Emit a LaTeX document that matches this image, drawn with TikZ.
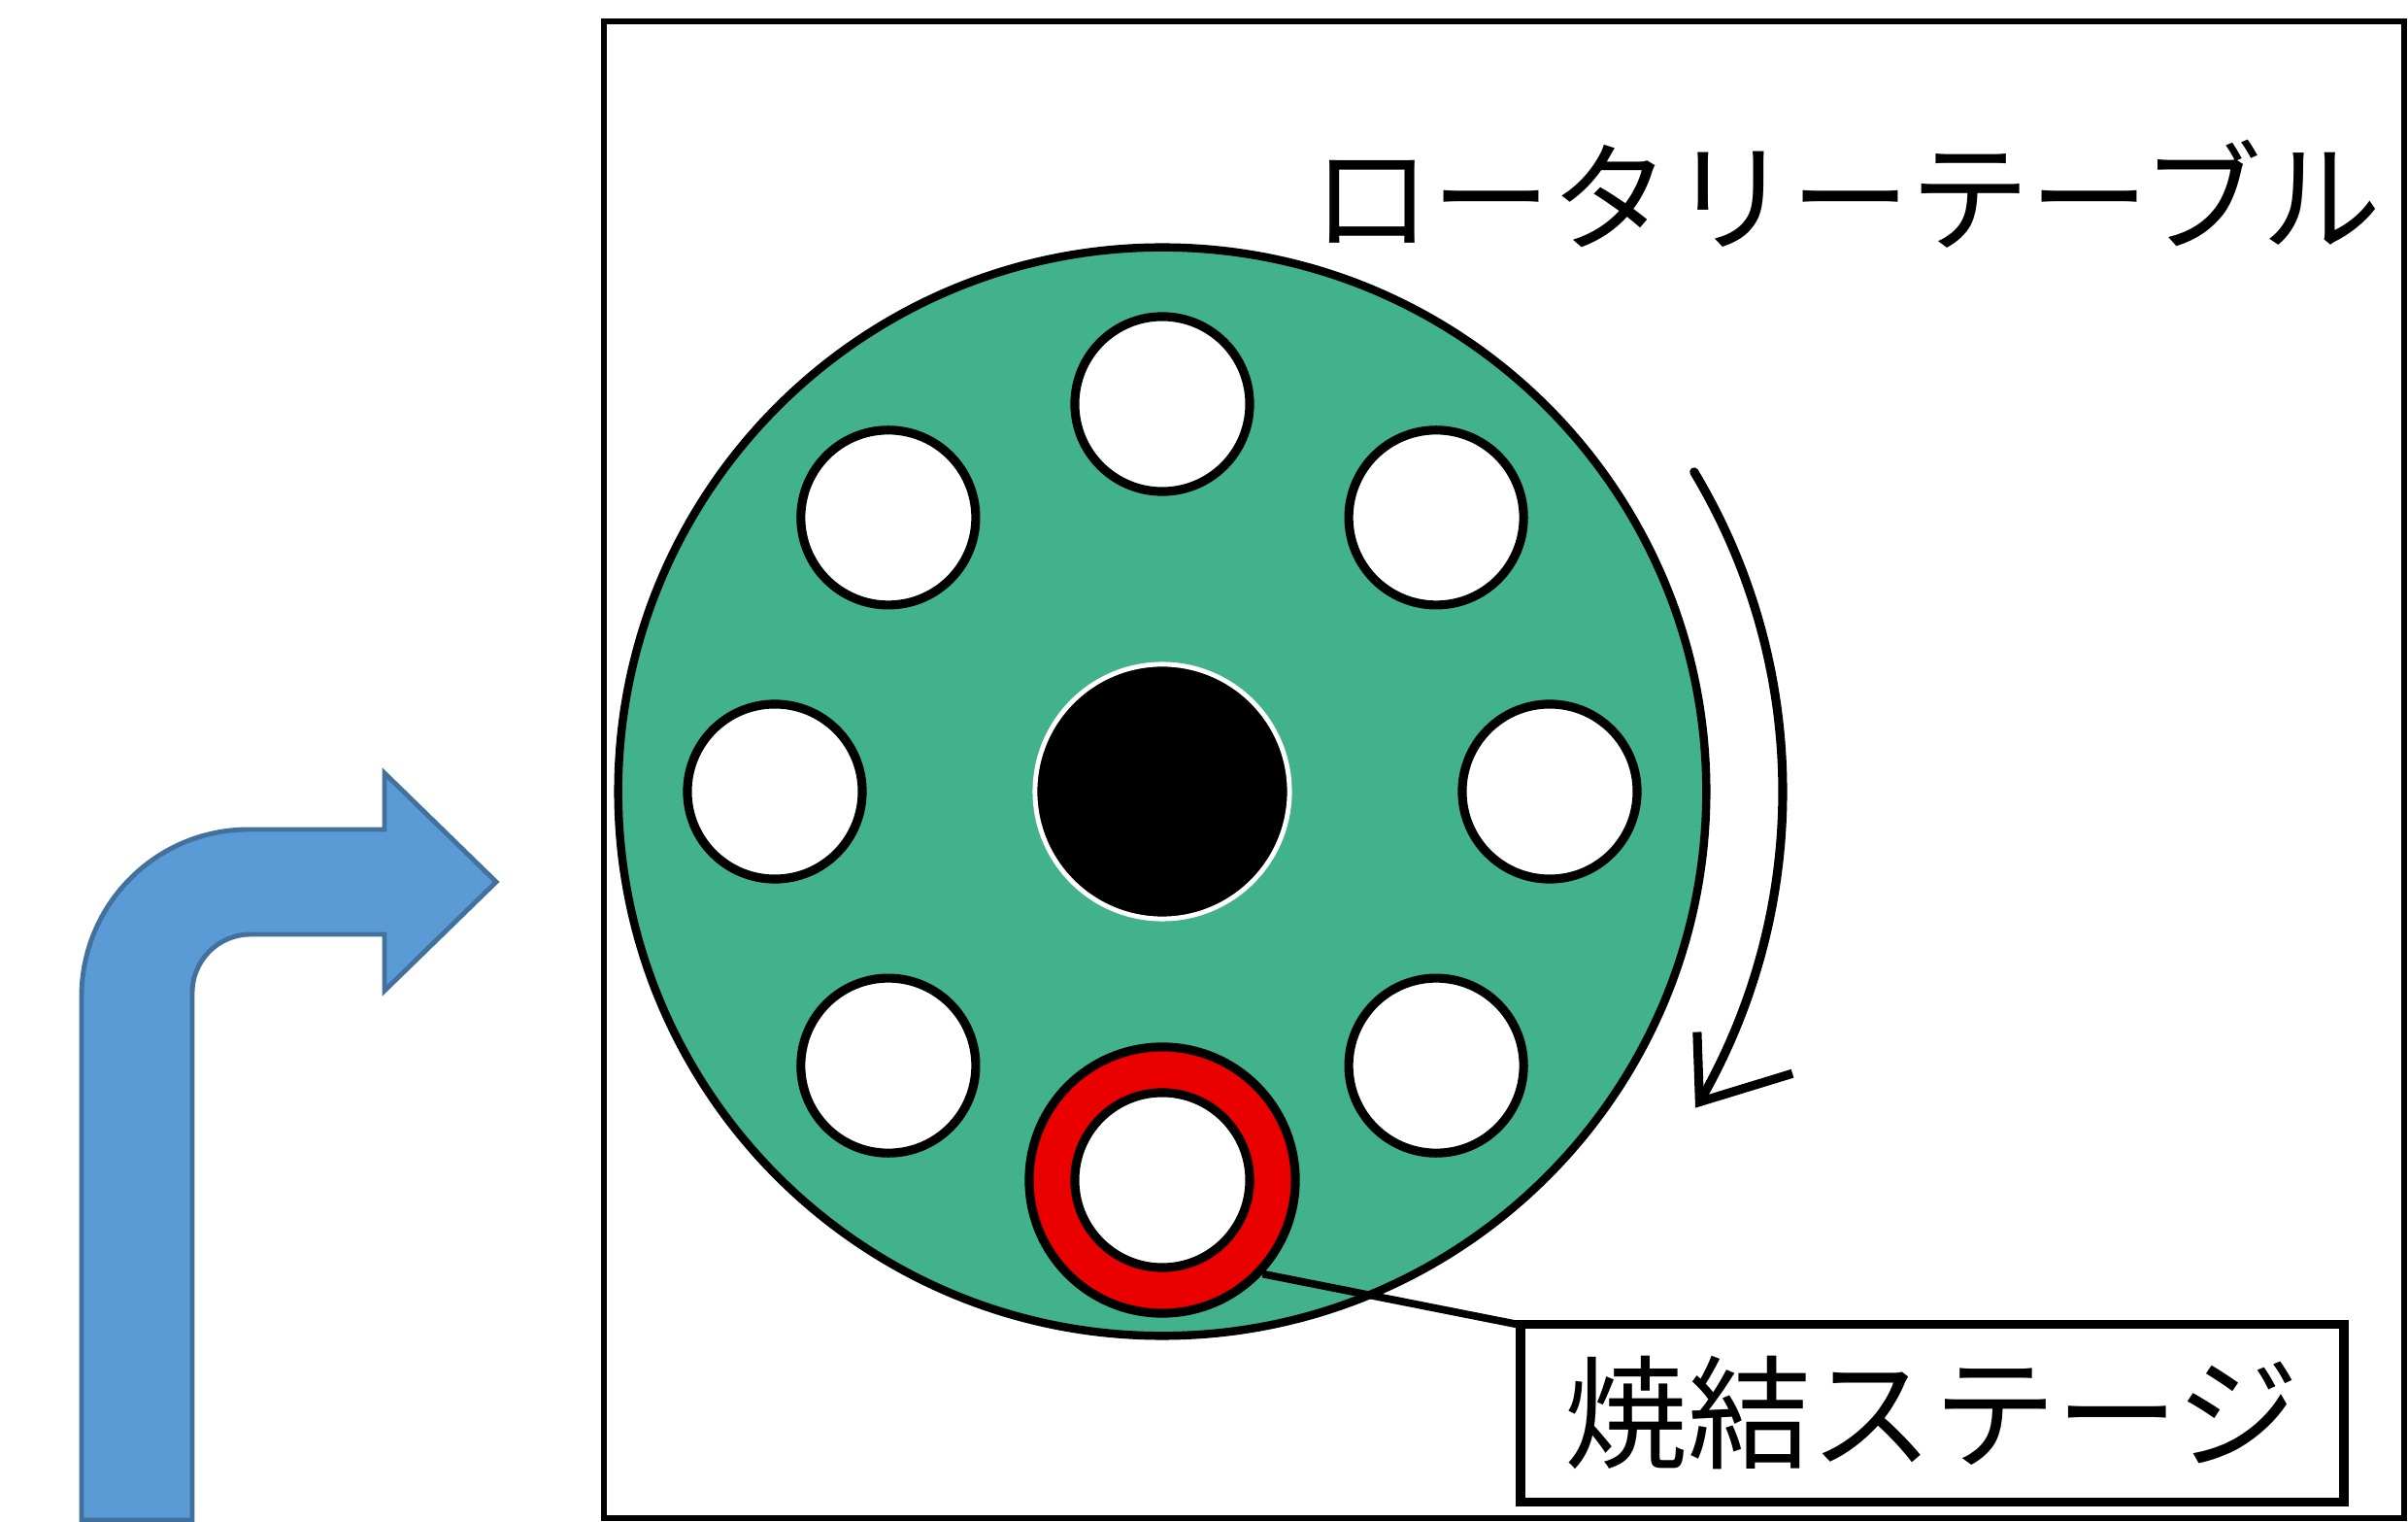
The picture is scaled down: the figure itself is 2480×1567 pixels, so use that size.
\documentclass[tikz,border=0pt]{standalone}
\usepackage{fontspec}
\newfontfamily\jp{Noto Sans CJK JP}
\definecolor{tablegreen}{RGB}{66,178,140}
\definecolor{arrowblue}{RGB}{91,155,213}
\definecolor{arrowedge}{RGB}{65,113,156}
\definecolor{stagered}{RGB}{235,0,0}
\tikzset{
  hole/.style={circle, draw=black, fill=white, line width=2.6pt, inner sep=0pt, minimum size=1.8cm},
  rotline/.style={line width=2.6pt, line cap=round, line join=round},
  bluearrow/.style={fill=arrowblue, draw=arrowedge, line width=1.4pt, line join=miter},
  lbl/.style={inner sep=0pt, font=\jp\fontsize{35pt}{35pt}\selectfont}
}
\begin{document}
\begin{tikzpicture}[x=0.01cm,y=-0.01cm]
\useasboundingbox (0,0) rectangle (2480,1567);
% frame
\draw[line width=1.8pt] (622,22) rectangle (2476,1563);
% blue bent arrow
\draw[bluearrow] (84,1565) -- (84,1026) arc[start angle=180,end angle=270,radius=172]
  -- (396,854) -- (396,796) -- (511,908) -- (396,1020) -- (396,962) -- (258,962)
  arc[start angle=270,end angle=180,radius=60] -- (198,1565) -- cycle;
% rotary table
\node[circle, draw=black, fill=tablegreen, line width=2.4pt, inner sep=0pt, minimum size=11.2cm] (table) at (1197,815) {};
\node[circle, draw=white, fill=black, line width=1.4pt, inner sep=0pt, minimum size=2.62cm] (hub) at (1197,815) {};
\node[hole] (h1) at ([shift={(0:399)}]1197,815) {};
\node[hole] (h2) at ([shift={(45:399)}]1197,815) {};
\node[hole] (h4) at ([shift={(135:399)}]1197,815) {};
\node[hole] (h5) at ([shift={(180:399)}]1197,815) {};
\node[hole] (h6) at ([shift={(225:399)}]1197,815) {};
\node[hole] (h7) at ([shift={(270:399)}]1197,815) {};
\node[hole] (h8) at ([shift={(315:399)}]1197,815) {};
\node[circle, draw=black, fill=stagered, line width=2.6pt, inner sep=0pt, minimum size=2.74cm] (stage) at (1197,1215) {};
\node[hole] (h3) at (1197,1215) {};
% label
\node[lbl] (label) at (1902,200) {ロータリーテーブル};
% rotation arrow
\draw[rotline] (1197,815) ++(-31:639) arc[start angle=-31,end angle=30,radius=639] coordinate (rtip);
\draw[rotline, line cap=butt, line join=miter] (rtip) ++(-92:72) -- (rtip) -- ++(-17:100);
% callout
\draw[line width=2.2pt] (stage.-43) -- (1570,1365) coordinate (cend);
\node[draw=black, line width=2.8pt, inner sep=0pt, minimum width=8.47cm, minimum height=1.83cm, font=\jp\fontsize{36pt}{36pt}\selectfont] (box) at (1990,1455) {焼結ステージ};
\end{tikzpicture}
\end{document}
